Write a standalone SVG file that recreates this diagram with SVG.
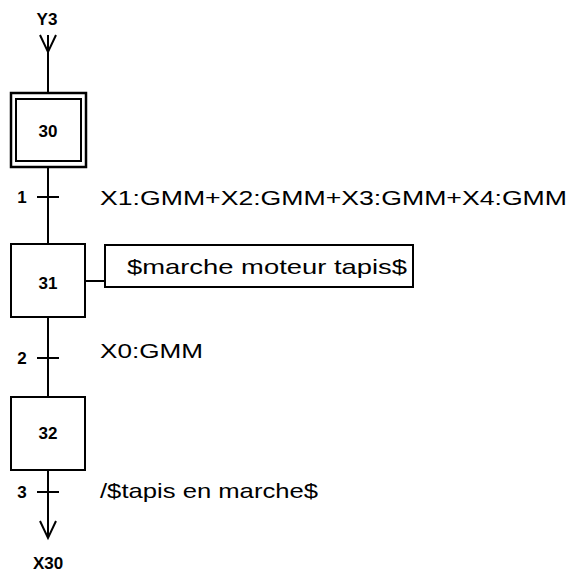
<svg xmlns="http://www.w3.org/2000/svg" width="570" height="583" viewBox="0 0 570 583">
<style>
.ln{stroke:#000;stroke-width:2;fill:none}
.bx{stroke:#000;stroke-width:2;fill:#fff}
.num{font-family:"Liberation Sans",Arial,sans-serif;font-weight:bold;font-size:17px;fill:#000}
.cond{font-family:"Liberation Sans",Arial,sans-serif;font-size:21px;fill:#000}
</style>
<rect width="570" height="583" fill="#fff"/>
<g id="connectors">
<path class="ln" d="M48,35 V93"/>
<path class="ln" d="M40,35 L48,52 L56,35"/>
<path class="ln" d="M48,167 V244"/>
<path class="ln" d="M37,197 H59"/>
<path class="ln" d="M48,317 V397"/>
<path class="ln" d="M37,358 H59"/>
<path class="ln" d="M48,470 V538"/>
<path class="ln" d="M37,492 H59"/>
<path class="ln" d="M40,521 L48,538 L56,521"/>
<path class="ln" d="M85,281 H105"/>
</g>
<g id="in"><text class="num" x="47" y="25" text-anchor="middle">Y3</text></g>
<g id="step30">
<rect class="bx" x="11" y="93" width="75" height="74" style="stroke-width:2.5"/>
<rect class="bx" x="16" y="99" width="65" height="62"/>
<text class="num" x="48" y="137" text-anchor="middle">30</text>
</g>
<g id="t1">
<text class="num" x="22" y="203" text-anchor="middle">1</text>
<text class="cond" x="100" y="205" textLength="467" lengthAdjust="spacingAndGlyphs">X1:GMM+X2:GMM+X3:GMM+X4:GMM</text>
</g>
<g id="step31">
<rect class="bx" x="11" y="244" width="74" height="73"/>
<text class="num" x="48" y="289" text-anchor="middle">31</text>
</g>
<g id="action31">
<rect class="bx" x="105" y="245" width="308" height="42"/>
<text class="cond" x="127" y="274" textLength="280" lengthAdjust="spacingAndGlyphs">$marche moteur tapis$</text>
</g>
<g id="t2">
<text class="num" x="22" y="364" text-anchor="middle">2</text>
<text class="cond" x="100" y="358" textLength="103" lengthAdjust="spacingAndGlyphs">X0:GMM</text>
</g>
<g id="step32">
<rect class="bx" x="11" y="397" width="74" height="73"/>
<text class="num" x="48" y="439" text-anchor="middle">32</text>
</g>
<g id="t3">
<text class="num" x="22" y="498" text-anchor="middle">3</text>
<text class="cond" x="100" y="498" textLength="218" lengthAdjust="spacingAndGlyphs">/$tapis en marche$</text>
</g>
<g id="out"><text class="num" x="48" y="569" text-anchor="middle">X30</text></g>
</svg>
